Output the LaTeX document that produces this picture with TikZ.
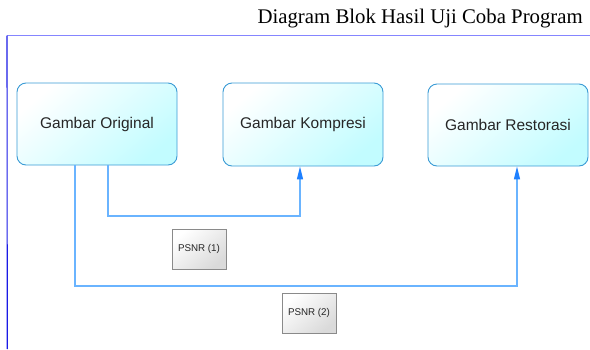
\documentclass[tikz,border=0pt]{standalone}
\usepackage{fontspec}
\setmainfont{Liberation Serif}
\newfontfamily\boxfont{Liberation Sans}
\usetikzlibrary{arrows.meta}
\definecolor{frameblue}{HTML}{1A1AE6}
\definecolor{ruleblue}{HTML}{8585FF}
\definecolor{boxedge}{HTML}{3A9BD5}
\definecolor{boxfill}{HTML}{C2FCFF}
\definecolor{linkblue}{HTML}{6AB4FF}
\definecolor{tipblue}{HTML}{1E80FF}
\definecolor{greyedge}{HTML}{8A8A8A}
\definecolor{greyfill}{HTML}{DADADA}
\tikzset{
  imgbox/.style={draw=boxedge, line width=0.9pt, rounded corners=9pt,
    top color=white, bottom color=boxfill, shading angle=40,
    minimum width=160pt, inner sep=0pt,
    font=\boxfont\fontsize{15.5}{18}\selectfont, text=black!85},
  psnrbox/.style={draw=greyedge, line width=0.9pt,
    top color=white, bottom color=greyfill, shading angle=40,
    minimum width=54pt, minimum height=40pt, inner sep=0pt,
    font=\boxfont\fontsize{9.8}{12}\selectfont, text=black!85},
  link/.style={draw=linkblue, line width=1.3pt},
  linkarrow/.style={link, -{Triangle[length=13pt,width=6pt,fill=tipblue,color=tipblue]}}
}
\begin{document}
\begin{tikzpicture}[x=1pt,y=-1pt]
  \useasboundingbox (0,0) rectangle (590,349);
  % page heading and frame
  \node[anchor=base east, font=\fontsize{20.8}{24}\selectfont, inner sep=0pt]
    (title) at (583,23) {Diagram Blok Hasil Uji Coba Program};
  \coordinate (ruleL) at (7,35.5);
  \coordinate (ruleR) at (590,35.5);
  \coordinate (frameB) at (7.3,349);
  \draw[ruleblue, line width=1.7pt] (ruleL) -- (ruleR);
  \draw[frameblue, line width=1.1pt] (ruleL) -- (frameB);
  % image blocks
  \node[imgbox, minimum height=82pt] (orig) at (97,124) {Gambar Original};
  \node[imgbox, minimum height=83pt] (komp) at (303,124.5) {Gambar Kompresi};
  \node[imgbox, minimum height=82pt] (rest) at (508,125) {Gambar Restorasi};
  % PSNR boxes
  \node[psnrbox] (p1) at (199,249) {PSNR (1)};
  \node[psnrbox] (p2) at (309,313) {PSNR (2)};
  % connectors
  \draw[linkarrow] ([xshift=11pt]orig.south) |- (204,216) -| ([xshift=-3pt]komp.south);
  \draw[linkarrow] ([xshift=-22pt]orig.south) |- (300,286) -| ([xshift=9pt]rest.south);
\end{tikzpicture}
\end{document}
